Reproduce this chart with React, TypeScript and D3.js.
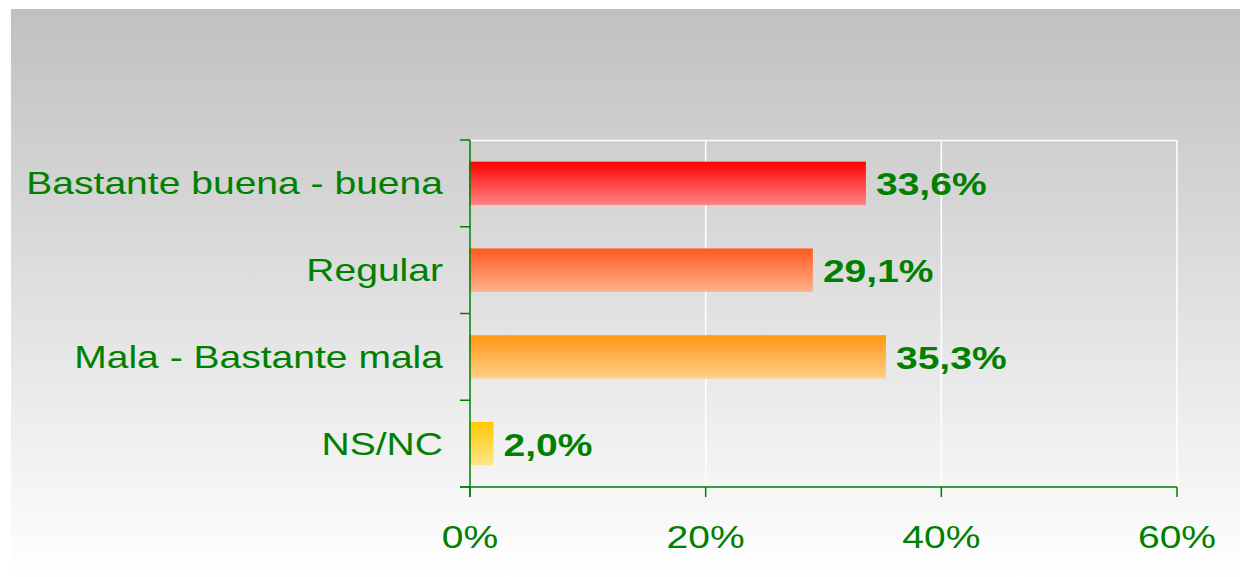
import React from "react";
import * as d3 from "d3";

const categories = ["Bastante buena - buena", "Regular", "Mala - Bastante mala", "NS/NC"];
const values = [33.6, 29.1, 35.3, 2.0];
const valueLabels = ["33,6%", "29,1%", "35,3%", "2,0%"];
const ticks = [0, 20, 40, 60];
const tickLabels = ["0%", "20%", "40%", "60%"];
const topColors = ["#ff0000", "#ff5a1e", "#ff9712", "#ffc800"];
const bottomColors = ["#ff8484", "#ffb28e", "#ffd088", "#ffe68c"];

export default function App() {
  const W = 1241, H = 577;
  const left = 470, right = 1177, top = 140, bottom = 487;
  const x = d3.scaleLinear().domain([0, 60]).range([left, right]);
  const y = d3.scaleBand<string>().domain(categories).range([top, bottom]).paddingInner(0.5).paddingOuter(0.25);
  const green = "#008000";
  const font = "Arial, 'Liberation Sans', sans-serif";
  const sx = 1.22;
  return (
    <svg width={W} height={H} style={{ position: "absolute", left: 0, top: 0 }}>
      <defs>
        <linearGradient id="bg" x1="0" y1="0" x2="0" y2="1">
          <stop offset="0" stopColor="#c0c0c0" />
          <stop offset="1" stopColor="#ffffff" />
        </linearGradient>
        {categories.map((c, i) => (
          <linearGradient key={c} id={`g${i}`} x1="0" y1="0" x2="0" y2="1">
            <stop offset="0" stopColor={topColors[i]} />
            <stop offset="1" stopColor={bottomColors[i]} />
          </linearGradient>
        ))}
      </defs>
      <rect x={0} y={0} width={W} height={H} fill="#ffffff" />
      <rect x={11} y={9} width={1229} height={H - 9} fill="url(#bg)" />
      <line x1={left} x2={right} y1={top + 0.5} y2={top + 0.5} stroke="#ffffff" strokeWidth={1.5} />
      {ticks.slice(1).map((t) => (
        <line key={t} x1={x(t)} x2={x(t)} y1={top} y2={bottom} stroke="#ffffff" strokeWidth={1.5} />
      ))}
      {categories.map((c, i) => (
        <rect key={c} x={x(0) - 1} y={y(c)!} width={x(values[i]) - x(0) + 1} height={y.bandwidth()} fill={`url(#g${i})`} />
      ))}
      <line x1={left} x2={left} y1={top} y2={bottom + 10} stroke={green} strokeWidth={1.5} />
      <line x1={left - 10} x2={right} y1={bottom} y2={bottom} stroke={green} strokeWidth={1.5} />
      {d3.range(categories.length + 1).map((k) => {
        const yy = top + (k * (bottom - top)) / categories.length;
        return <line key={k} x1={left - 10} x2={left} y1={yy} y2={yy} stroke={green} strokeWidth={1.5} />;
      })}
      {ticks.map((t) => (
        <line key={t} x1={x(t)} x2={x(t)} y1={bottom} y2={bottom + 10} stroke={green} strokeWidth={1.5} />
      ))}
      {ticks.map((t, i) => (
        <text key={t} transform={`translate(${x(t)},548) scale(${sx},1)`} textAnchor="middle" fill={green} fontFamily={font} fontSize={32}>
          {tickLabels[i]}
        </text>
      ))}
      {categories.map((c) => (
        <text key={c} transform={`translate(443,${y(c)! + y.bandwidth() / 2 + 11}) scale(${sx},1)`} textAnchor="end" fill={green} fontFamily={font} fontSize={32}>
          {c}
        </text>
      ))}
      {categories.map((c, i) => (
        <text key={c} transform={`translate(${x(values[i]) + 10},${y(c)! + y.bandwidth() / 2 + 12}) scale(${sx},1)`} fill={green} fontFamily={font} fontSize={32} fontWeight="bold">
          {valueLabels[i]}
        </text>
      ))}
    </svg>
  );
}
